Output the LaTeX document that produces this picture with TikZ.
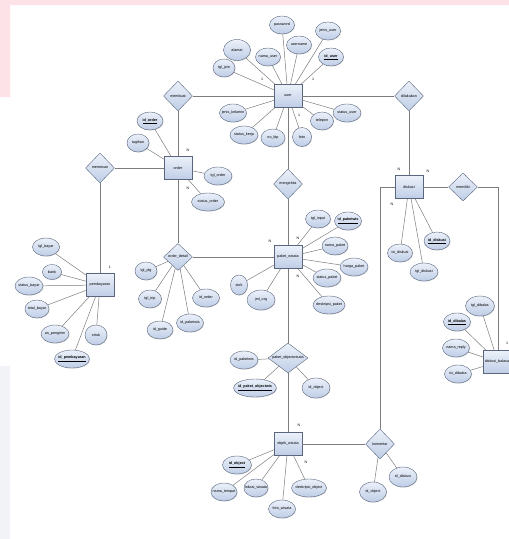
\documentclass[tikz,border=0pt]{standalone}
\usepackage{fontspec}
\setmainfont{Liberation Sans}
\usetikzlibrary{shapes, shadows, positioning}
\definecolor{erfill}{RGB}{190,205,230}
\definecolor{ertop}{RGB}{236,241,250}
\definecolor{erline}{RGB}{90,102,125}
\definecolor{linkgray}{RGB}{125,125,125}
\definecolor{pinkband}{RGB}{253,226,231}
\definecolor{grayband}{RGB}{242,243,246}
\tikzset{
  entity/.style={rectangle, draw=erline, top color=ertop, bottom color=erfill, minimum width=28pt, minimum height=23pt, inner sep=0pt, text centered},
  relation/.style={diamond, draw=erline, top color=ertop, bottom color=erfill, minimum width=29pt, minimum height=30pt, inner sep=0pt, text centered},
  attrib/.style={ellipse, draw=erline, top color=ertop, bottom color=erfill, minimum width=#1, minimum height=18pt, inner sep=0pt,
    drop shadow={opacity=0.3, shadow xshift=0.6pt, shadow yshift=-0.6pt},
    execute at begin node={\hbox to 0pt\bgroup\hss}, execute at end node={\hss\egroup}},
  attrib/.default=25pt,
  link/.style={draw=linkgray, line width=0.5pt},
  card/.style={font=\fontsize{3.6}{4}\selectfont, inner sep=0pt}
}
\newcommand{\keyattr}[1]{\textbf{\underline{#1}}}

\begin{document}
\begin{tikzpicture}[x=1pt, y=-1pt, every node/.style={font=\fontsize{3.7}{4}\selectfont}]
  \useasboundingbox (0,0) rectangle (509,539);
  \fill[pinkband] (0,0) rectangle (509,5) (0,0) rectangle (10,97);
  \fill[grayband] (0,366) rectangle (10,539);

  % Entities
  \node[entity] (user) at (288,96) {user};
  \node[entity] (order) at (178,168) {order};
  \node[entity] (pembayaran) at (100,285) {pembayaran};
  \node[entity] (paket) at (288,257) {paket\_wisata};
  \node[entity] (diskusi) at (409,187) {diskusi};
  \node[entity, minimum width=30pt] (balasan) at (498,362) {diskusi\_balasan};
  \node[entity] (objek) at (288,444) {objek\_wisata};

  % Relations
  \node[relation] (membuat) at (178,96) {membuat};
  \node[relation] (dilakukan) at (409,96) {dilakukan};
  \node[relation] (memesan) at (100,168) {memesan};
  \node[relation] (mengelola) at (288,184) {mengelola};
  \node[relation, minimum height=28pt] (memiliki) at (463,187) {memiliki};
  \node[relation, minimum height=27pt] (orderdetail) at (178,257) {order\_detail};
  \node[relation, aspect=1.3, minimum width=40pt] (paketobj) at (288,358) {paket\_objectwisata};
  \node[relation] (komentar) at (380,444) {komentar};

  % Attributes of user
  \node[attrib] (password) at (282,25) {password};
  \node[attrib] (jenisuser) at (328,31) {jenis\_user};
  \node[attrib=27pt, minimum height=21pt] (alamat) at (237,50) {alamat};
  \node[attrib] (namauser) at (268,57) {nama\_user};
  \node[attrib] (username) at (299,45) {username};
  \node[attrib] (iduser) at (331,57) {\keyattr{id\_user}};
  \node[attrib=22pt] (tgljoin) at (224,68) {tgl\_join};
  \node[attrib=27pt] (jeniskelamin) at (233,113) {jenis\_kelamin};
  \node[attrib=28pt] (statuskerja) at (244,135) {status\_kerja};
  \node[attrib=24pt] (noktp) at (273,138) {no\_ktp};
  \node[attrib=19pt, minimum height=19pt] (foto) at (302,137) {foto};
  \node[attrib=23pt] (telepon) at (322,121) {telepon};
  \node[attrib=28pt] (statususer) at (347,113) {status\_user};

  % Attributes of order
  \node[attrib=26pt] (idorder) at (150,121) {\keyattr{id\_order}};
  \node[attrib=22pt] (tagihan) at (138,143) {tagihan};
  \node[attrib=28pt] (tglorder) at (218,176) {tgl\_order};
  \node[attrib=33pt] (statusorder) at (208,202) {status\_order};

  % Attributes of pembayaran
  \node[attrib=27pt] (tglbayar) at (46,247) {tgl\_bayar};
  \node[attrib=19pt, minimum height=15pt] (bank) at (52,272) {bank};
  \node[attrib=28pt] (statusbayar) at (29,286) {status\_bayar};
  \node[attrib=24pt] (totalbayar) at (37,309) {total\_bayar};
  \node[attrib=28pt] (anpengirim) at (55,334) {an\_pengirim};
  \node[attrib=22pt, minimum height=20pt] (struk) at (96,335) {struk};
  \node[attrib=35pt] (idpembayaran) at (72,359) {\keyattr{id\_pembayaran}};

  % Attributes of order_detail
  \node[attrib=22pt] (tglplg) at (146,271) {tgl\_plg};
  \node[attrib=23pt] (tgltrip) at (150,299) {tgl\_trip};
  \node[attrib=26pt] (idguide) at (160,330) {id\_guide};
  \node[attrib=27pt] (odpaketwis) at (190,323) {id\_paketwis};
  \node[attrib=27pt] (odidorder) at (206,298) {id\_order};

  % Attributes of paket_wisata
  \node[attrib] (tglinput) at (318,219) {tgl\_input};
  \node[attrib=27pt] (idpaketwis) at (348,221) {\keyattr{id\_paketwis}};
  \node[attrib=26pt] (namapaket) at (335,246) {nama\_paket};
  \node[attrib=28pt] (hargapaket) at (354,267) {harga\_paket};
  \node[attrib=28pt] (statuspaket) at (327,278) {status\_paket};
  \node[attrib=32pt] (deskripsipaket) at (329,305) {deskripsi\_paket};
  \node[attrib=17pt, minimum height=20pt] (stok) at (239,285) {stok};
  \node[attrib=28pt, minimum height=20pt] (jmlorg) at (261,300) {jml\_org};

  % Attributes of diskusi
  \node[attrib] (isidiskusi) at (400,253) {isi\_diskusi};
  \node[attrib=26pt] (iddiskusi) at (437,241) {\keyattr{id\_diskusi}};
  \node[attrib=28pt] (tgldiskusi) at (424,272) {tgl\_diskusi};

  % Attributes of diskusi_balasan
  \node[attrib=29pt, minimum height=20pt] (tgldibalas) at (480,306) {tgl\_dibalas};
  \node[attrib=27pt] (iddibalas) at (457,322) {\keyattr{id\_dibalas}};
  \node[attrib=27pt] (namareply) at (456,348) {nama\_reply};
  \node[attrib=27pt] (isidibalas) at (458,374) {isi\_dibalas};

  % Attributes of paket_objectwisata
  \node[attrib=28pt] (popaketwis) at (244,360) {id\_paketwis};
  \node[attrib=43pt] (idpaketobj) at (255,388) {\keyattr{id\_paket\_objectwis}};
  \node[attrib=28pt, minimum height=20pt] (poobject) at (316,388) {id\_object};

  % Attributes of objek_wisata
  \node[attrib=29pt] (idobject) at (237,465) {\keyattr{id\_object}};
  \node[attrib=26pt] (namatempat) at (224,492) {nama\_tempat};
  \node[attrib=24pt] (lokasiwisata) at (256,488) {lokasi\_wisata};
  \node[attrib=27pt] (fotowisata) at (282,509) {foto\_wisata};
  \node[attrib=35pt] (deskripsiobject) at (309,488) {deskripsi\_object};

  % Attributes of komentar
  \node[attrib=27pt, minimum height=20pt] (koobject) at (373,492) {id\_object};
  \node[attrib=28pt, minimum height=20pt] (kodiskusi) at (403,477) {id\_diskusi};

  % Relationship lines
  \draw[link] (user) -- (membuat) (membuat) -- (order);
  \draw[link] (user) -- (dilakukan) (dilakukan) -- (diskusi);
  \draw[link] (user) -- (mengelola) (mengelola) -- (paket);
  \draw[link] (order) -- (memesan) (memesan) -- (pembayaran);
  \draw[link] (order) -- (orderdetail) (orderdetail) -- (paket);
  \draw[link] (paket) -- (paketobj) (paketobj) -- (objek);
  \draw[link] (objek) -- (komentar);
  \draw[link] (komentar.north) |- (diskusi.west);
  \draw[link] (diskusi) -- (memiliki);
  \draw[link] (memiliki.east) -| (balasan.north);

  % Attribute lines
  \draw[link] (user) -- (password) (user) -- (jenisuser) (user) -- (alamat) (user) -- (namauser)
    (user) -- (username) (user) -- (iduser) (user) -- (tgljoin) (user) -- (jeniskelamin)
    (user) -- (statuskerja) (user) -- (noktp) (user) -- (foto) (user) -- (telepon) (user) -- (statususer);
  \draw[link] (order) -- (idorder) (order) -- (tagihan) (order) -- (tglorder) (order) -- (statusorder);
  \draw[link] (pembayaran) -- (tglbayar) (pembayaran) -- (bank) (pembayaran) -- (statusbayar)
    (pembayaran) -- (totalbayar) (pembayaran) -- (anpengirim) (pembayaran) -- (struk) (pembayaran) -- (idpembayaran);
  \draw[link] (orderdetail) -- (tglplg) (orderdetail) -- (tgltrip) (orderdetail) -- (idguide)
    (orderdetail) -- (odpaketwis) (orderdetail) -- (odidorder);
  \draw[link] (paket) -- (tglinput) (paket) -- (idpaketwis) (paket) -- (namapaket) (paket) -- (hargapaket)
    (paket) -- (statuspaket) (paket) -- (deskripsipaket) (paket) -- (stok) (paket) -- (jmlorg);
  \draw[link] (diskusi) -- (isidiskusi) (diskusi) -- (iddiskusi) (diskusi) -- (tgldiskusi);
  \draw[link] (balasan) -- (tgldibalas) (balasan) -- (iddibalas) (balasan) -- (namareply) (balasan) -- (isidibalas);
  \draw[link] (paketobj) -- (popaketwis) (paketobj) -- (idpaketobj) (paketobj) -- (poobject);
  \draw[link] (objek) -- (idobject) (objek) -- (namatempat) (objek) -- (lokasiwisata)
    (objek) -- (fotowisata) (objek) -- (deskripsiobject);
  \draw[link] (komentar) -- (koobject) (komentar) -- (kodiskusi);

  % Cardinalities
  \node[card] (c1) at (262,79) {1};
  \node[card] (c2) at (313,79) {1};
  \node[card] (c3) at (299,115) {1};
  \node[card] (c4) at (188,150) {N};
  \node[card] (c5) at (188,188) {N};
  \node[card] (c6) at (110,267) {1};
  \node[card] (c7) at (270,241) {N};
  \node[card] (c8) at (298,238) {N};
  \node[card] (c9) at (298,276) {N};
  \node[card] (c10) at (399,169) {N};
  \node[card] (c11) at (428,171) {N};
  \node[card] (c12) at (392,204) {N};
  \node[card] (c13) at (507,343) {1};
  \node[card] (c14) at (299,425) {N};
  \node[card] (c15) at (306,462) {N};
\end{tikzpicture}
\end{document}
